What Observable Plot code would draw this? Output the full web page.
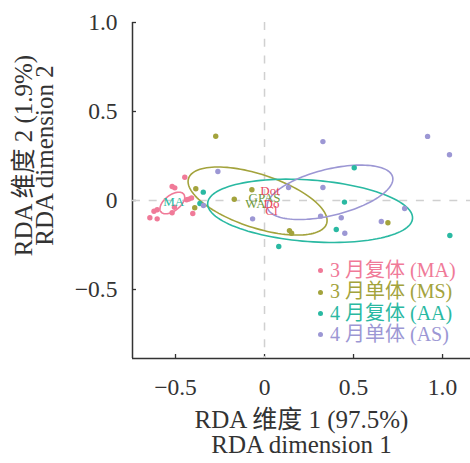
<!DOCTYPE html>
<html>
<head>
<meta charset="utf-8">
<script src="https://cdn.jsdelivr.net/npm/d3@7"></script>
<script src="https://cdn.jsdelivr.net/npm/@observablehq/plot@0.6"></script>
<style>
  html, body { margin: 0; padding: 0; background: #fff; }
  #wrap { position: relative; width: 470px; height: 463px; font-family: "Liberation Serif", "Noto Sans CJK SC", serif; }
  #legend { position: absolute; left: 318px; top: 260px; font-size: 20px; }
  #legend .row { display: flex; align-items: center; height: 21.4px; white-space: nowrap; line-height: 21.4px; }
  #legend .dot { width: 5px; height: 5px; border-radius: 50%; margin-right: 7px; }
</style>
</head>
<body>
<div id="wrap"><div id="legend"></div></div>
<script>
// ---- data ----
const groups = ["MA", "MS", "AA", "AS"];
const legendLabels = ["3 月复体 (MA)", "3 月单体 (MS)", "4 月复体 (AA)", "4 月单体 (AS)"];
const colors = ["#f07a98", "#a3a33c", "#2ab9a2", "#9c97d4"];

const maX = [-0.448, -0.519, -0.504, -0.425, -0.438, -0.410, -0.506, -0.603, -0.621, -0.644, -0.603, -0.519, -0.403];
const maY = [0.131, 0.079, 0.071, 0.008, 0.004, 0.014, -0.038, -0.052, -0.060, -0.097, -0.103, -0.069, -0.073];
const msX = [-0.274, -0.386, -0.392, -0.170, -0.071, 0.140, 0.152, 0.693];
const msY = [0.361, 0.066, -0.041, 0.007, 0.060, -0.169, -0.184, -0.125];
const aaX = [-0.344, -0.363, 0.080, 0.504, 0.449, 0.403, 1.041];
const aaY = [0.047, -0.017, -0.258, 0.184, -0.009, -0.163, -0.197];
const asX = [-0.262, -0.343, -0.067, 0.135, 0.328, 0.916, 1.039, 0.328, 0.315, 0.431, 0.656, 0.451, 0.787];
const asY = [0.163, -0.028, -0.103, 0.073, 0.331, 0.360, 0.257, 0.073, -0.088, -0.097, -0.118, -0.184, -0.045];

// confidence ellipses: centre, semi-axes, rotation (degrees)
const ellCx = [-0.518, -0.039, 0.256, 0.368];
const ellCy = [-0.014, -0.003, -0.058, 0.046];
const ellA = [0.081, 0.408, 0.577, 0.362];
const ellB = [0.044, 0.150, 0.173, 0.130];
const ellAngle = [38, -18.2, -4.3, 13.8];

// labels near origin
const redLabels = ["Dot", "Do", "Cl"];
const redX = [0.031, 0.039, 0.039];
const redY = [0.056, -0.017, -0.056];
const greenLabels = ["GPAS", "WA"];
const greenX = [0.0, -0.051];
const greenY = [0.017, -0.017];
const centroidLabels = ["MA"];
const centroidX = [-0.51];
const centroidY = [-0.01];

const xTicks = [-0.5, 0, 0.5, 1.0];
const yTicks = [-0.5, 0, 0.5, 1.0];
const xTitle = ["RDA 维度 1 (97.5%)", "RDA dimension 1"];
const yTitle = ["RDA 维度 2 (1.9%)", "RDA dimension 2"];

// ---- build tables ----
const seriesX = [maX, msX, aaX, asX];
const seriesY = [maY, msY, aaY, asY];
const points = [];
groups.forEach((g, i) => seriesX[i].forEach((x, j) => points.push({g, x, y: seriesY[i][j]})));

const ellPts = [];
groups.forEach((g, i) => {
  const th = ellAngle[i] * Math.PI / 180;
  for (let k = 0; k < 120; k++) {
    const t = 2 * Math.PI * k / 120;
    const u = ellA[i] * Math.cos(t), v = ellB[i] * Math.sin(t);
    ellPts.push({g, x: ellCx[i] + u * Math.cos(th) - v * Math.sin(th), y: ellCy[i] + u * Math.sin(th) + v * Math.cos(th)});
  }
});

const fmt = d => d === 0 ? "0" : d3.format(".1f")(d);
const xDom = [-0.7416, 1.157];
const yDom = [-0.8876, 1.0];
const fw = 470 - 132, fh = 463 - 22 - 105;
const serif = "'Liberation Serif', 'Noto Sans CJK SC', serif";

const chart = Plot.plot({
  width: 470, height: 463,
  marginLeft: 132, marginRight: 0, marginTop: 22, marginBottom: 105,
  x: {domain: xDom},
  y: {domain: yDom},
  color: {domain: groups, range: colors},
  style: {fontFamily: serif, fontSize: "23.5px", color: "#333", background: "transparent", overflow: "visible"},
  marks: [
    Plot.ruleX([xDom[0]], {stroke: "#333", strokeWidth: 1.5}),
    Plot.ruleY([yDom[0]], {stroke: "#333", strokeWidth: 1.5}),
    Plot.tickX(xTicks, {x: d => d, insetTop: fh - 4, stroke: "#333", strokeWidth: 1.3}),
    Plot.tickY(yTicks, {y: d => d, insetRight: fw - 4, stroke: "#333", strokeWidth: 1.3}),
    Plot.ruleX([0], {stroke: "#d0d0d0", strokeWidth: 1.5, strokeDasharray: "8,8.7"}),
    Plot.ruleY([0], {stroke: "#d0d0d0", strokeWidth: 1.5, strokeDasharray: "8,8.7"}),
    Plot.axisX({ticks: xTicks, tickSize: 0, tickPadding: 20, tickFormat: fmt, label: null}),
    Plot.axisY({ticks: yTicks, tickSize: 0, tickPadding: 15, tickFormat: fmt, label: null}),
    Plot.line(ellPts, {x: "x", y: "y", z: "g", stroke: "g", strokeWidth: 1.6, curve: "linear-closed"}),
    Plot.dot(points, {x: "x", y: "y", fill: "g", r: 2.7}),
    Plot.text(greenLabels, {x: greenX, y: greenY, text: d => d, fill: "#6f9a3e", fontSize: 13}),
    Plot.text(redLabels, {x: redX, y: redY, text: d => d, fill: "#e8495e", fontSize: 13}),
    Plot.text(centroidLabels, {x: centroidX, y: centroidY, text: d => d, fill: colors[2], fontSize: 13}),
    Plot.text([xTitle[0]], {text: d => d, frameAnchor: "bottom", lineAnchor: "middle", dy: 61, fill: "#333", fontSize: 25}),
    Plot.text([xTitle[1]], {text: d => d, frameAnchor: "bottom", lineAnchor: "middle", dy: 86, fill: "#333", fontSize: 25}),
    Plot.text([yTitle[0]], {text: d => d, frameAnchor: "left", textAnchor: "middle", lineAnchor: "middle", dx: -109, dy: -35, rotate: -90, fill: "#333", fontSize: 25}),
    Plot.text([yTitle[1]], {text: d => d, frameAnchor: "left", textAnchor: "middle", lineAnchor: "middle", dx: -88, dy: -35, rotate: -90, fill: "#333", fontSize: 25})
  ]
});
const wrap = document.getElementById("wrap");
wrap.insertBefore(chart, wrap.firstChild);

const legend = document.getElementById("legend");
groups.forEach((g, i) => {
  const row = document.createElement("div");
  row.className = "row";
  row.style.color = colors[i];
  const dot = document.createElement("span");
  dot.className = "dot";
  dot.style.background = colors[i];
  const txt = document.createElement("span");
  txt.textContent = legendLabels[i];
  row.appendChild(dot);
  row.appendChild(txt);
  legend.appendChild(row);
});
</script>
</body>
</html>
